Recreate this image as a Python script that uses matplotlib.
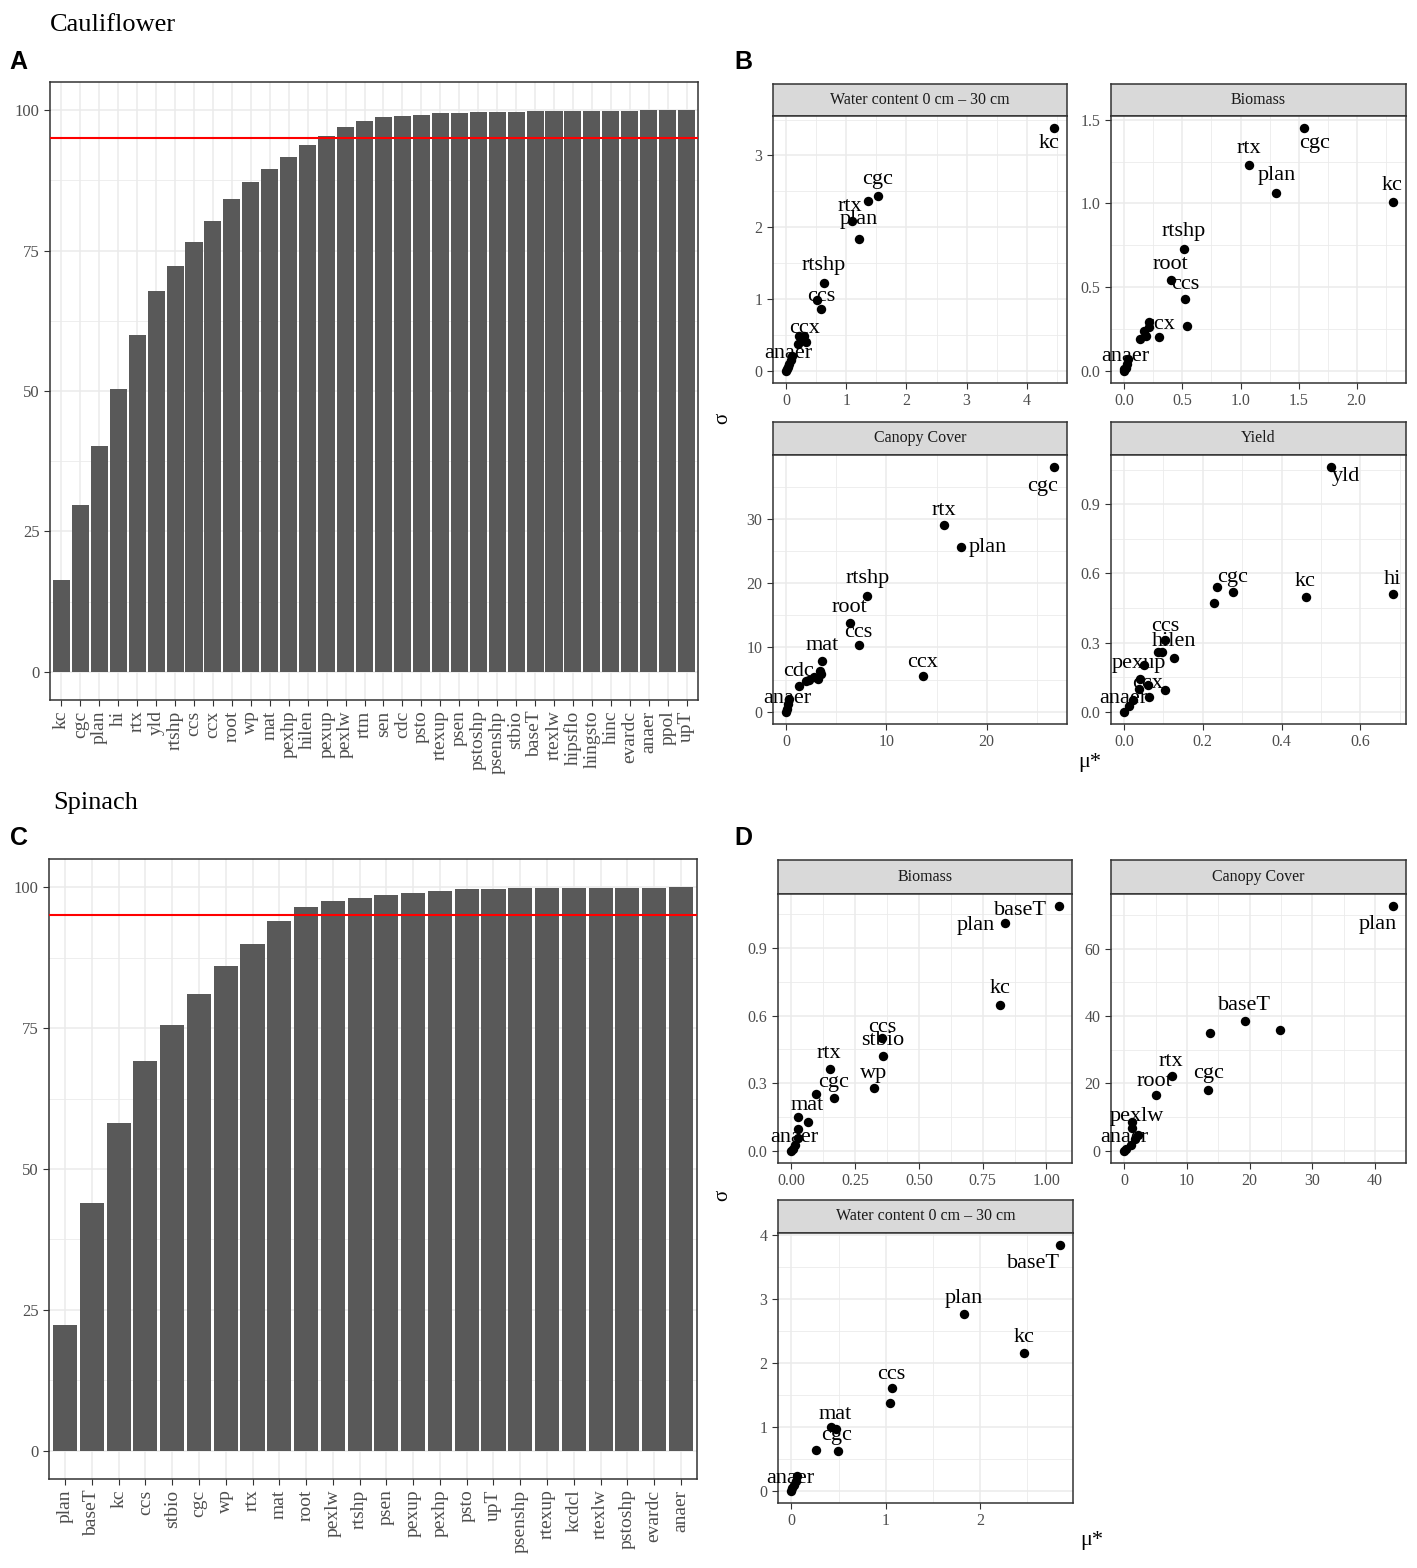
import matplotlib
matplotlib.use('Agg')
import matplotlib.pyplot as plt
from matplotlib.ticker import FixedLocator
import numpy as np

W, H = 1417, 1568
plt.rcParams['font.family'] = ['Liberation Serif', 'DejaVu Serif']

# ---- cumulative bar data ----
cauli_names = ['kc', 'cgc', 'plan', 'hi', 'rtx', 'yld', 'rtshp', 'ccs', 'ccx', 'root', 'wp', 'mat',
               'pexhp', 'hilen', 'pexup', 'pexlw', 'rtm', 'sen', 'cdc', 'psto', 'rtexup', 'psen',
               'pstoshp', 'psenshp', 'stbio', 'baseT', 'rtexlw', 'hipsflo', 'hingsto', 'hinc',
               'evardc', 'anaer', 'ppol', 'upT']
cauli_vals = [16.4, 29.7, 40.2, 50.4, 60.0, 67.8, 72.2, 76.5, 80.3, 84.1, 87.2, 89.6,
              91.7, 93.7, 95.4, 97.0, 98.0, 98.7, 98.9, 99.2, 99.4, 99.5,
              99.6, 99.7, 99.7, 99.8, 99.8, 99.8, 99.9, 99.9, 99.9, 100, 100, 100]

spin_names = ['plan', 'baseT', 'kc', 'ccs', 'stbio', 'cgc', 'wp', 'rtx', 'mat', 'root', 'pexlw',
              'rtshp', 'psen', 'pexup', 'pexhp', 'psto', 'upT', 'psenshp', 'rtexup', 'kcdcl',
              'rtexlw', 'pstoshp', 'evardc', 'anaer']
spin_vals = [22.3, 43.9, 58.1, 69.2, 75.5, 81.0, 86.0, 90.0, 94.0, 96.4, 97.5,
             98.1, 98.6, 99.0, 99.4, 99.7, 99.7, 99.8, 99.8, 99.8, 99.8, 99.8, 99.9, 100]

threshold = 95

# ---- Morris mu* / sigma data ----
# cauliflower, water content 0-30 cm
cw_mu = [4.45, 1.52, 1.36, 1.09, 1.21, 0.62, 0.51, 0.58, 0.30, 0.21, 0.32, 0.19, 0.24, 0.10, 0.07, 0.04, 0.02, 0.01, 0.0]
cw_sd = [3.38, 2.44, 2.37, 2.09, 1.84, 1.23, 0.98, 0.86, 0.49, 0.49, 0.40, 0.37, 0.43, 0.21, 0.15, 0.10, 0.05, 0.02, 0.0]
cw_lab = ['kc', 'cgc', '', 'rtx', 'plan', 'rtshp', '', 'ccs', 'ccx', '', '', '', '', '', '', 'anaer', '', '', '']

# cauliflower, biomass
cb_mu = [1.55, 1.07, 1.31, 2.31, 0.51, 0.40, 0.52, 0.54, 0.21, 0.21, 0.19, 0.30, 0.13, 0.17, 0.03, 0.02, 0.01, 0.0, 0.0]
cb_sd = [1.45, 1.23, 1.06, 1.01, 0.73, 0.54, 0.43, 0.27, 0.29, 0.26, 0.21, 0.20, 0.19, 0.24, 0.07, 0.04, 0.02, 0.01, 0.0]
cb_lab = ['cgc', 'rtx', 'plan', 'kc', 'rtshp', 'root', 'ccs', '', '', '', '', 'ccx', '', '', '', 'anaer', '', '', '']

# cauliflower, canopy cover
cc_mu = [26.7, 15.7, 17.4, 8.1, 6.4, 7.3, 13.6, 3.6, 3.4, 3.5, 3.2, 2.8, 2.3, 2.0, 1.3, 0.26, 0.2, 0.1, 0.0]
cc_sd = [38.0, 29.0, 25.6, 18.0, 13.8, 10.3, 5.6, 7.9, 6.4, 5.9, 5.1, 5.4, 5.0, 4.8, 4.0, 2.0, 1.2, 0.5, 0.0]
cc_lab = ['cgc', 'rtx', 'plan', 'rtshp', 'root', 'ccs', 'ccx', 'mat', '', '', '', '', '', '', 'cdc', 'anaer', '', '', '']

# cauliflower, yield
cy_mu = [0.525, 0.682, 0.461, 0.276, 0.237, 0.228, 0.105, 0.128, 0.087, 0.096, 0.052, 0.041, 0.060, 0.038, 0.105, 0.063, 0.023, 0.012, 0.001]
cy_sd = [1.06, 0.51, 0.498, 0.518, 0.543, 0.473, 0.313, 0.234, 0.257, 0.257, 0.202, 0.141, 0.115, 0.097, 0.096, 0.064, 0.049, 0.023, 0.0]
cy_lab = ['yld', 'hi', 'kc', 'cgc', '', '', 'ccs', 'hilen', '', '', 'pexup', '', 'ccx', '', '', '', 'anaer', '', '']

# spinach, biomass
sb_mu = [1.048, 0.838, 0.820, 0.355, 0.36, 0.323, 0.150, 0.168, 0.097, 0.027, 0.066, 0.027, 0.027, 0.015, 0.005, 0.0]
sb_sd = [1.085, 1.009, 0.648, 0.50, 0.42, 0.278, 0.363, 0.232, 0.253, 0.150, 0.128, 0.098, 0.056, 0.024, 0.01, 0.0]
sb_lab = ['baseT', 'plan', 'kc', 'ccs', 'stbio', 'wp', 'rtx', 'cgc', '', 'mat', '', '', 'anaer', '', '', '']

# spinach, canopy cover
sc_mu = [42.8, 19.3, 24.9, 13.7, 7.6, 13.4, 5.1, 1.25, 1.25, 2.15, 1.7, 1.0, 0.3, 0.0]
sc_sd = [72.6, 38.4, 35.8, 34.9, 22.2, 18.0, 16.5, 8.6, 6.8, 4.8, 3.6, 1.6, 0.6, 0.0]
sc_lab = ['plan', 'baseT', '', '', 'rtx', 'cgc', 'root', 'pexlw', '', '', '', 'anaer', '', '']

# spinach, water content 0-30 cm
sw_mu = [2.84, 1.83, 2.46, 1.07, 1.04, 0.42, 0.47, 0.49, 0.26, 0.06, 0.05, 0.03, 0.01, 0.0]
sw_sd = [3.84, 2.76, 2.16, 1.60, 1.37, 0.99, 0.96, 0.62, 0.64, 0.23, 0.15, 0.09, 0.04, 0.0]
sw_lab = ['baseT', 'plan', 'kc', 'ccs', '', 'mat', '', 'cgc', '', 'anaer', '', '', '', '']

# label offsets in pixels (dx right, dy down) -- mimic ggrepel placement
off_cw = {'kc': (-5, 15), 'cgc': (0, -16), 'rtx': (-2, -14), 'plan': (0, -19), 'rtshp': (0, -17),
          'ccs': (0, -13), 'ccx': (0, -7), 'anaer': (0, -10)}
off_cb = {'cgc': (10, 15), 'rtx': (0, -16), 'plan': (0, -18), 'kc': (-1, -16), 'rtshp': (0, -17),
          'root': (0, -16), 'ccs': (0, -14), 'ccx': (0, -13), 'anaer': (-1, -8)}
off_cc = {'cgc': (-11, 19), 'rtx': (0, -15), 'plan': (27, 0), 'rtshp': (0, -17), 'root': (-1, -15),
          'ccs': (-1, -13), 'ccx': (0, -13), 'mat': (0, -15), 'cdc': (-1, -15), 'anaer': (-2, 0)}
off_cy = {'yld': (15, 9), 'hi': (0, -15), 'kc': (0, -15), 'cgc': (0, -15), 'ccs': (0, -13),
          'hilen': (0, -16), 'pexup': (-6, -2), 'ccx': (0, -2), 'anaer': (-10, -2)}
off_sb = {'baseT': (-38, 4), 'plan': (-29, 2), 'kc': (0, -16), 'ccs': (0, -11), 'stbio': (0, -16),
          'wp': (0, -15), 'rtx': (-1, -15), 'cgc': (-1, -16), 'mat': (9, -11), 'anaer': (-4, -1)}
off_sc = {'plan': (-15, 18), 'baseT': (-1, -16), 'rtx': (-1, -14), 'cgc': (0, -17), 'root': (-2, -14),
          'pexlw': (5, -5), 'anaer': (-6, -8)}
off_sw = {'baseT': (-26, 18), 'plan': (0, -16), 'kc': (0, -15), 'ccs': (-1, -14), 'mat': (4, -13),
          'cgc': (-1, -16), 'anaer': (-7, 2)}

fig = plt.figure(figsize=(W / 100, H / 100), dpi=100)


def box(l, t, r, b):
    return [l / W, 1 - b / H, (r - l) / W, (b - t) / H]


def style_frame(ax):
    for s in ax.spines.values():
        s.set_color('#333333')
        s.set_linewidth(1.1)
    ax.tick_params(colors='#333333', labelcolor='#4D4D4D', length=4, width=0.8)


def bar_panel(rect, names, vals):
    ax = fig.add_axes(box(*rect))
    x = np.arange(len(names))
    ax.bar(x, vals, width=0.9, color='#595959', zorder=2)
    ax.axhline(threshold, color='red', lw=1.5, zorder=3)
    ax.set_xlim(-0.6, len(names) - 0.4)
    ax.set_ylim(-5, 105)
    ax.set_xticks(x)
    ax.set_xticklabels(names, rotation=90, fontsize=14)
    ax.set_yticks([0, 25, 50, 75, 100])
    ax.yaxis.set_minor_locator(FixedLocator([12.5, 37.5, 62.5, 87.5]))
    ax.tick_params(axis='y', labelsize=12)
    ax.tick_params(which='minor', length=0)
    ax.grid(which='major', color='#EBEBEB', lw=1.1, zorder=0)
    ax.grid(which='minor', axis='y', color='#EBEBEB', lw=0.6, zorder=0)
    ax.set_axisbelow(True)
    style_frame(ax)
    return ax


def facet(l, t, r, sb, b, title, xs, ys, labs, offs, xt, xtl, yt, ytl):
    st = fig.add_axes(box(l, t, r, sb))
    st.set_facecolor('#D9D9D9')
    st.set_xticks([])
    st.set_yticks([])
    for s in st.spines.values():
        s.set_color('#333333')
        s.set_linewidth(1.1)
    st.text(0.5, 0.5, title, ha='center', va='center', fontsize=11.5, color='#1A1A1A',
            transform=st.transAxes)

    ax = fig.add_axes(box(l, sb, r, b))
    ax.scatter(xs, ys, s=46, color='black', zorder=3, linewidths=0)
    ax.margins(0.05)
    ax.set_xticks(xt)
    ax.set_xticklabels(xtl)
    ax.set_yticks(yt)
    ax.set_yticklabels(ytl)
    xmin, xmax = ax.get_xlim()
    ymin, ymax = ax.get_ylim()
    ax.set_xlim(xmin, xmax)
    ax.set_ylim(ymin, ymax)
    ax.xaxis.set_minor_locator(FixedLocator([(a + c) / 2 for a, c in zip(xt[:-1], xt[1:])]
                                            + [xt[-1] + (xt[1] - xt[0]) / 2]))
    ax.yaxis.set_minor_locator(FixedLocator([(a + c) / 2 for a, c in zip(yt[:-1], yt[1:])]
                                            + [yt[-1] + (yt[1] - yt[0]) / 2]))
    ax.tick_params(which='minor', length=0)
    ax.tick_params(labelsize=11.5)
    ax.grid(which='major', color='#EBEBEB', lw=1.1, zorder=0)
    ax.grid(which='minor', color='#EBEBEB', lw=0.6, zorder=0)
    ax.set_axisbelow(True)
    style_frame(ax)
    for xv, yv, name in zip(xs, ys, labs):
        if not name:
            continue
        dx, dy = offs[name]
        ax.annotate(name, (xv, yv), xytext=(dx, -dy), textcoords='offset pixels',
                    ha='center', va='center', fontsize=16, color='black', zorder=4)
    return ax


# panel A / C bars
bar_panel((50, 82, 698, 700), cauli_names, cauli_vals)
bar_panel((49, 859, 697, 1479), spin_names, spin_vals)

# panel B
facet(773, 84, 1067, 116, 383, 'Water content 0 cm \u2013 30 cm', cw_mu, cw_sd, cw_lab, off_cw,
      [0, 1, 2, 3, 4], ['0', '1', '2', '3', '4'], [0, 1, 2, 3], ['0', '1', '2', '3'])
facet(1111, 84, 1406, 116, 383, 'Biomass', cb_mu, cb_sd, cb_lab, off_cb,
      [0, 0.5, 1.0, 1.5, 2.0], ['0.0', '0.5', '1.0', '1.5', '2.0'],
      [0, 0.5, 1.0, 1.5], ['0.0', '0.5', '1.0', '1.5'])
facet(773, 422, 1067, 455, 724, 'Canopy Cover', cc_mu, cc_sd, cc_lab, off_cc,
      [0, 10, 20], ['0', '10', '20'], [0, 10, 20, 30], ['0', '10', '20', '30'])
facet(1111, 422, 1406, 455, 724, 'Yield', cy_mu, cy_sd, cy_lab, off_cy,
      [0, 0.2, 0.4, 0.6], ['0.0', '0.2', '0.4', '0.6'],
      [0, 0.3, 0.6, 0.9], ['0.0', '0.3', '0.6', '0.9'])

# panel D
facet(778, 860, 1072, 894, 1163, 'Biomass', sb_mu, sb_sd, sb_lab, off_sb,
      [0, 0.25, 0.5, 0.75, 1.0], ['0.00', '0.25', '0.50', '0.75', '1.00'],
      [0, 0.3, 0.6, 0.9], ['0.0', '0.3', '0.6', '0.9'])
facet(1111, 860, 1406, 894, 1163, 'Canopy Cover', sc_mu, sc_sd, sc_lab, off_sc,
      [0, 10, 20, 30, 40], ['0', '10', '20', '30', '40'],
      [0, 20, 40, 60], ['0', '20', '40', '60'])
facet(778, 1200, 1073, 1233, 1503, 'Water content 0 cm \u2013 30 cm', sw_mu, sw_sd, sw_lab, off_sw,
      [0, 1, 2], ['0', '1', '2'], [0, 1, 2, 3, 4], ['0', '1', '2', '3', '4'])

# axis titles for facets
for yc in (418, 1195):
    fig.text(723 / W, 1 - yc / H, '\u03c3', rotation=90, ha='center', va='center', fontsize=15)
fig.text(1090 / W, 1 - 762 / H, '\u03bc*', ha='center', va='center', fontsize=16)
fig.text(1092 / W, 1 - 1540 / H, '\u03bc*', ha='center', va='center', fontsize=16)

# titles and panel letters
fig.text(50 / W, 1 - 25 / H, 'Cauliflower', ha='left', va='center', fontsize=19)
fig.text(53 / W, 1 - 803 / H, 'Spinach', ha='left', va='center', fontsize=19)
for lt, xc, yc in (('A', 18, 62), ('B', 743, 62), ('C', 19, 838), ('D', 743, 838)):
    fig.text(xc / W, 1 - yc / H, lt, ha='center', va='center', fontsize=18, fontweight='bold',
             family=['Liberation Sans', 'DejaVu Sans'])

fig.savefig('out.png', dpi=100)
